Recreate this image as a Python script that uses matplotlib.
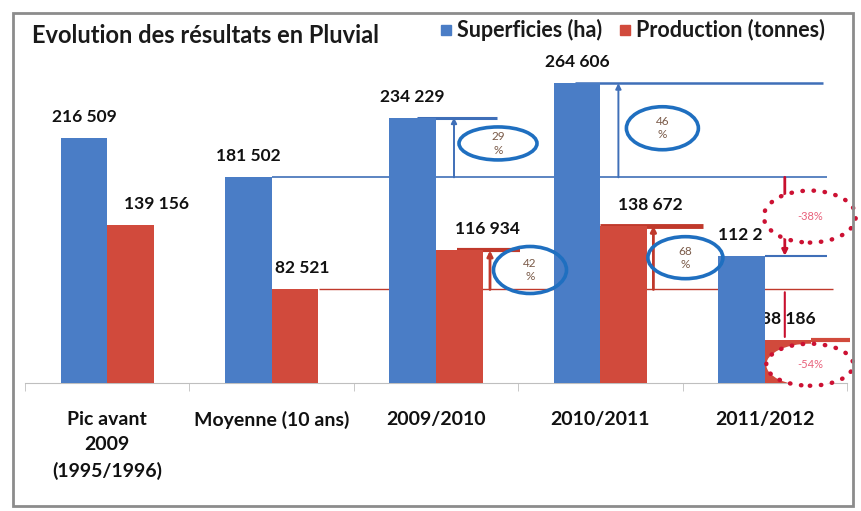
import matplotlib
matplotlib.use("Agg")
import matplotlib.pyplot as plt
from matplotlib.patches import Ellipse, Rectangle

# chart data
categories = ["Pic avant\n2009\n(1995/1996)", "Moyenne (10 ans)", "2009/2010", "2010/2011", "2011/2012"]
superficies = [216509, 181502, 234229, 264606, 112200]
production = [139156, 82521, 116934, 138672, 38186]
superficies_labels = ["216 509", "181 502", "234 229", "264 606", "112 2"]
production_labels = ["139 156", "82 521", "116 934", "138 672", "38 186"]

# growth bubbles: (text, base level, reached level)
sup_growth = [("29\n%", 181502, 234229), ("46\n%", 181502, 264606)]
prod_growth = [("42\n%", 82521, 116934), ("68\n%", 82521, 138672)]
drops = [("-38%", 181502, 112200), ("-54%", 82521, 38186)]

BLUE = "#4A7DC6"
RED = "#D14A3C"
LINE_BLUE = "#3F6FB8"
LINE_RED = "#C0392B"
ARROW_RED = "#C8102E"

W, H = 861, 511
fig = plt.figure(figsize=(W / 100, H / 100), dpi=100)
plt.rcParams['font.family'] = ['Lato', 'DejaVu Sans']

# axes placed in pixels: x from 25 to 847, baseline at y=383, top at y=13
ax = fig.add_axes([25 / W, (H - 383) / H, 822 / W, 370 / H])
ymax = 326500
ax.set_xlim(-0.5, 4.5)
ax.set_ylim(0, ymax)


def dx(px):
    return px / 164.4


def dy(px):
    return px * ymax / 370


bw = 0.283
x = list(range(len(categories)))
ax.bar([i - bw / 2 for i in x], superficies, width=bw, color=BLUE, zorder=3)
ax.bar([i + bw / 2 for i in x], production, width=bw, color=RED, zorder=3)

# value labels
prod_shift = [26, 7, 28, 27, 0]
for i, (v, t) in enumerate(zip(superficies, superficies_labels)):
    if i == 4:
        ax.text(i - bw - dx(0), v + dy(21), t, ha='left', va='center',
                fontsize=12.5, fontweight='bold', color='#111111', zorder=2)
    else:
        ax.text(i - bw / 2, v + dy(21), t, ha='center', va='center',
                fontsize=12.5, fontweight='bold', color='#111111', zorder=5)
for i, (v, t) in enumerate(zip(production, production_labels)):
    ax.text(i + bw / 2 + dx(prod_shift[i]), v + dy(21), t, ha='center', va='center',
            fontsize=12.5, fontweight='bold', color='#111111', zorder=2)

# reference level lines
ax.hlines(superficies[1], 1, 4 + dx(62), color=LINE_BLUE, lw=1.2, zorder=1)
ax.hlines(production[1], 1 + dx(47), 4 + dx(68), color=LINE_RED, lw=1.0, zorder=1)
ax.hlines(superficies[2], 2 - dx(19), 2 + dx(61), color=LINE_BLUE, lw=2.2, zorder=1)
ax.hlines(superficies[3], 3 - dx(25), 4 + dx(58), color=LINE_BLUE, lw=1.8, zorder=1)
ax.hlines(production[2], 2 + dx(21), 2 + dx(84), color=LINE_RED, lw=3, zorder=1)
ax.hlines(production[3], 3, 3 + dx(103), color=LINE_RED, lw=3.5, zorder=1)
ax.hlines(superficies[4], 4, 4 + dx(62), color=LINE_BLUE, lw=1.5, zorder=1)
ax.hlines(production[4], 4 + bw, 4.52, color=RED, lw=3, zorder=2, clip_on=False)


def ellipse(cx, cy, wpx, hpx, text, red=False):
    if red:
        e = Ellipse((cx, cy), dx(wpx), dy(hpx), facecolor='white', edgecolor='#CC1133',
                    lw=3.2, linestyle=(0, (0.1, 2.4)), capstyle='round', zorder=7, clip_on=False)
        ax.add_patch(e)
        ax.text(cx, cy, text, ha='center', va='center', fontsize=8, color='#E8607A', zorder=8)
    else:
        e = Ellipse((cx, cy), dx(wpx), dy(hpx), facecolor='none', edgecolor='#1F6FC0',
                    lw=2.6, zorder=7, clip_on=False)
        ax.add_patch(e)
        ax.text(cx, cy, text, ha='center', va='center', fontsize=8.5, color='#7A5A48',
                linespacing=1.25, zorder=8)


def arrow(xa, y0, y1, color, lw):
    ax.annotate('', xy=(xa, y1), xytext=(xa, y0),
                arrowprops=dict(arrowstyle='-|>', color=color, lw=lw,
                                mutation_scale=8, shrinkA=0, shrinkB=0), zorder=6)


# surface growth
arrow(2 + dx(18), sup_growth[0][1], sup_growth[0][2], LINE_BLUE, 1.4)
ellipse(2 + dx(62), (sup_growth[0][1] + sup_growth[0][2]) / 2 + dy(4), 78, 33, sup_growth[0][0])
arrow(3 + dx(18), sup_growth[1][1], sup_growth[1][2], LINE_BLUE, 1.4)
ellipse(3 + dx(62), (sup_growth[1][1] + sup_growth[1][2]) / 2 + dy(2), 72, 43, sup_growth[1][0])

# production growth
arrow(2 + dx(54), prod_growth[0][1], prod_growth[0][2], LINE_RED, 2)
ellipse(2 + dx(94), (prod_growth[0][1] + prod_growth[0][2]) / 2, 73, 47, prod_growth[0][0])
arrow(3 + dx(53), prod_growth[1][1], prod_growth[1][2], LINE_RED, 2)
ellipse(3 + dx(85), (prod_growth[1][1] + prod_growth[1][2]) / 2, 75, 42, prod_growth[1][0])

# drops in 2011/2012
arrow(4 + dx(20), drops[0][1], drops[0][2], ARROW_RED, 2)
ellipse(4 + dx(45), (drops[0][1] + drops[0][2]) / 2, 92, 52, drops[0][0], red=True)
ax.annotate('', xy=(4 + dx(20), drops[1][2]), xytext=(4 + dx(20), drops[1][1]),
            arrowprops=dict(arrowstyle='-', color=ARROW_RED, lw=1.5), zorder=1)
ellipse(4 + dx(45), drops[1][2] - dy(25), 87, 42, drops[1][0], red=True)

# category axis
for s in ['top', 'right', 'left']:
    ax.spines[s].set_visible(False)
ax.spines['bottom'].set_color('#BFBFBF')
ax.set_yticks([])
ax.set_xticks(x)
ax.set_xticklabels(categories, fontsize=14, fontweight='bold', color='#111111', linespacing=1.6)
ax.tick_params(axis='x', which='major', length=0, pad=20)
ax.set_xticks([i - 0.5 for i in range(len(categories) + 1)], minor=True)
ax.tick_params(axis='x', which='minor', length=6, color='#BFBFBF')
ax.set_facecolor('none')

# title and legend
fig.text(32 / W, 1 - 35 / H, "Evolution des résultats en Pluvial", fontsize=17,
         fontweight='bold', color='#1a1a1a', va='center', ha='left')
fig.patches.append(Rectangle((441 / W, 1 - 35 / H), 10 / W, 10 / H, color=BLUE,
                             transform=fig.transFigure, figure=fig))
fig.text(457 / W, 1 - 30 / H, "Superficies (ha)", fontsize=15.5, fontweight='bold',
         color='#1a1a1a', va='center', ha='left')
fig.patches.append(Rectangle((620 / W, 1 - 35 / H), 10 / W, 10 / H, color=RED,
                             transform=fig.transFigure, figure=fig))
fig.text(636 / W, 1 - 30 / H, "Production (tonnes)", fontsize=15.5, fontweight='bold',
         color='#1a1a1a', va='center', ha='left')

# outer frame
fig.patches.append(Rectangle((13 / W, 1 - 506 / H), 840 / W, 493 / H, fill=False,
                             edgecolor='#8C8C8C', lw=2, transform=fig.transFigure, figure=fig))

fig.savefig("out.png", dpi=100, facecolor='white')
